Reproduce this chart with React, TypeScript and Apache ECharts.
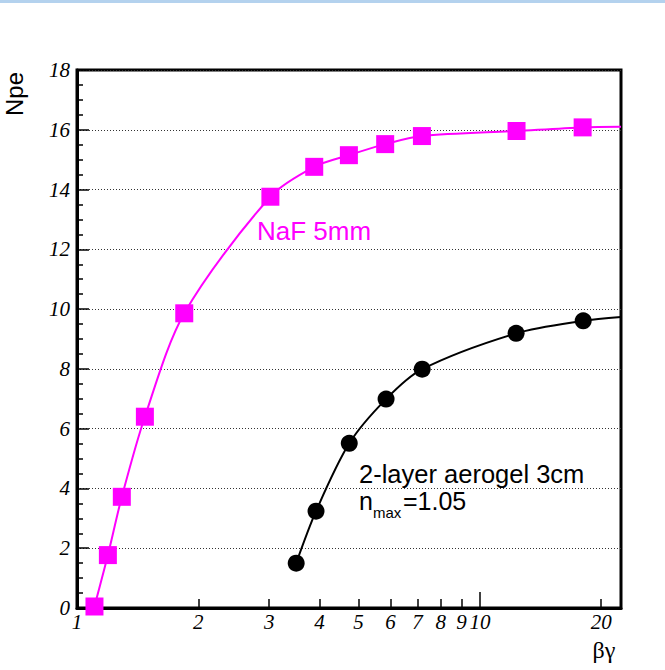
import React, { useEffect, useRef } from 'react';
import * as echarts from 'echarts';

// NaF 5mm radiator (magenta squares)
const nafBetaGamma = [1.105, 1.193, 1.292, 1.474, 1.846, 3.02, 3.88, 4.73, 5.82, 7.18, 12.33, 17.99];
const nafNpe = [0.05, 1.77, 3.72, 6.4, 9.86, 13.76, 14.76, 15.15, 15.52, 15.79, 15.96, 16.08];
const nafCurveEnd = [22.4, 16.1];

// 2-layer aerogel 3cm (black circles)
const aeroBetaGamma = [3.5, 3.92, 4.74, 5.85, 7.19, 12.3, 18.05];
const aeroNpe = [1.5, 3.24, 5.51, 6.99, 7.99, 9.19, 9.61];
const aeroCurveEnd = [22.4, 9.74];

// axis ticks / labels
const xLabelValues = [1, 2, 3, 4, 5, 6, 7, 8, 9, 10, 20];
const xMinorTickValues = [2, 3, 4, 5, 6, 7, 8, 9, 20];
const xMajorTickValues = [1, 10];
const xMin = 1;
const xMax = 22.4;
const yMin = 0;
const yMax = 18;
const yStep = 2;

const MAGENTA = '#ff00ff';
const tickFont = {
  fontFamily: 'Liberation Serif',
  fontStyle: 'italic' as const,
  fontSize: 21,
  color: '#000',
};

export default function App() {
  const ref = useRef<HTMLDivElement>(null);

  useEffect(() => {
    if (!ref.current) return;
    const chart = echarts.init(ref.current, null, { renderer: 'svg' });

    const nafData: any[] = nafBetaGamma.map((x, i) => [x, nafNpe[i]]);
    nafData.push({ value: nafCurveEnd, symbol: 'none' });
    const aeroData: any[] = aeroBetaGamma.map((x, i) => [x, aeroNpe[i]]);
    aeroData.push({ value: aeroCurveEnd, symbol: 'none' });

    const option: any = {
      animation: false,
      backgroundColor: '#fff',
      grid: {
        left: 77,
        right: 44,
        top: 70,
        bottom: 62,
        show: true,
        borderColor: '#000',
        borderWidth: 3,
        backgroundColor: 'transparent',
        containLabel: false,
        outerBoundsMode: 'none',
      },
      xAxis: [
        {
          type: 'log',
          logBase: 10,
          min: xMin,
          max: xMax,
          position: 'bottom',
          axisLine: { show: true, lineStyle: { color: '#000', width: 3 } },
          axisTick: {
            show: true,
            inside: true,
            length: 9,
            customValues: xMinorTickValues,
            lineStyle: { color: '#000', width: 1.5 },
          },
          minorTick: { show: false },
          axisLabel: {
            show: true,
            customValues: xLabelValues,
            margin: 3,
            formatter: (v: number) => String(Math.round(v)),
            ...tickFont,
          },
          splitLine: { show: false },
        },
        {
          type: 'log',
          logBase: 10,
          min: xMin,
          max: xMax,
          position: 'bottom',
          axisLine: { show: false },
          axisTick: {
            show: true,
            inside: true,
            length: 16,
            customValues: xMajorTickValues,
            lineStyle: { color: '#000', width: 1.5 },
          },
          axisLabel: { show: false },
          splitLine: { show: false },
        },
      ],
      yAxis: {
        type: 'value',
        min: yMin,
        max: yMax,
        interval: yStep,
        axisLine: { show: true, lineStyle: { color: '#000', width: 3 } },
        axisTick: { show: true, inside: true, length: 12, lineStyle: { color: '#000', width: 1.5 } },
        minorTick: { show: true, splitNumber: 4, length: 6, lineStyle: { color: '#000', width: 1.5 } },
        axisLabel: { margin: 7, ...tickFont },
        splitLine: { show: true, lineStyle: { color: '#333', width: 1, type: [1, 2] } },
      },
      series: [
        {
          name: 'NaF 5mm',
          type: 'line',
          data: nafData,
          symbol: 'rect',
          symbolSize: 18,
          smooth: 0.3,
          itemStyle: { color: MAGENTA },
          lineStyle: { color: MAGENTA, width: 2 },
          z: 3,
        },
        {
          name: '2-layer aerogel 3cm',
          type: 'line',
          data: aeroData,
          symbol: 'circle',
          symbolSize: 17,
          smooth: 0.3,
          itemStyle: { color: '#000' },
          lineStyle: { color: '#000', width: 2 },
          z: 3,
        },
      ],
      graphic: [
        { type: 'rect', left: 0, top: 0, shape: { width: 665, height: 3 }, style: { fill: '#b4d2ee' } },
        {
          type: 'text',
          x: 14,
          y: 94,
          rotation: Math.PI / 2,
          style: { text: 'Npe', fill: '#000', font: '24px "Liberation Sans"', align: 'center', verticalAlign: 'middle' },
        },
        {
          type: 'text',
          x: 604,
          y: 650,
          style: { text: 'βγ', fill: '#000', font: '24px "Liberation Serif"', align: 'center', verticalAlign: 'middle' },
        },
        {
          type: 'text',
          x: 257,
          y: 231,
          style: { text: 'NaF 5mm', fill: MAGENTA, font: '26px "Liberation Sans"', align: 'left', verticalAlign: 'middle' },
        },
        {
          type: 'text',
          x: 359,
          y: 474,
          style: { text: '2-layer aerogel 3cm', fill: '#000', font: '25.5px "Liberation Sans"', align: 'left', verticalAlign: 'middle' },
        },
        {
          type: 'text',
          x: 359,
          y: 501,
          style: { text: 'n', fill: '#000', font: '25px "Liberation Sans"', align: 'left', verticalAlign: 'middle' },
        },
        {
          type: 'text',
          x: 373,
          y: 512,
          style: { text: 'max', fill: '#000', font: '15px "Liberation Sans"', align: 'left', verticalAlign: 'middle' },
        },
        {
          type: 'text',
          x: 403,
          y: 501,
          style: { text: '=1.05', fill: '#000', font: '25px "Liberation Sans"', align: 'left', verticalAlign: 'middle' },
        },
      ],
    };

    chart.setOption(option);
    return () => chart.dispose();
  }, []);

  return (
    <div
      ref={ref}
      style={{ position: 'absolute', left: 0, top: 0, width: 665, height: 670, background: '#fff' }}
    />
  );
}
